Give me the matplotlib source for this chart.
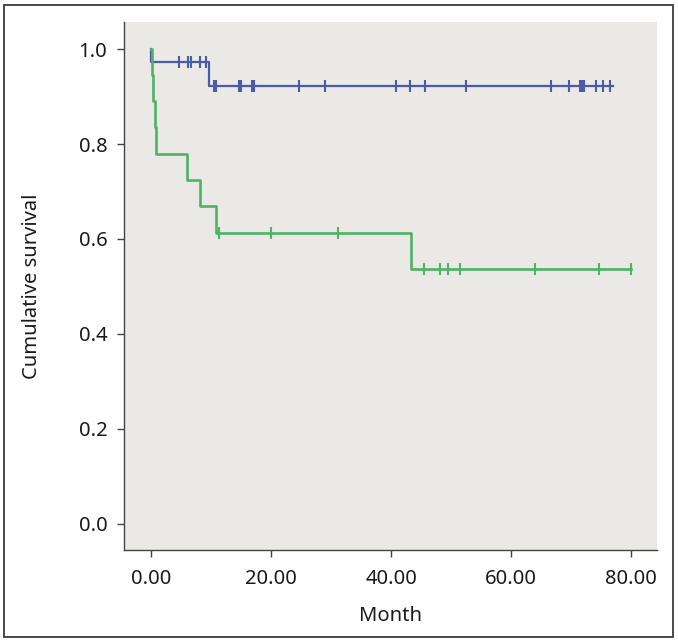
import numpy as np
import matplotlib
matplotlib.use("Agg")
import matplotlib.pyplot as plt
from matplotlib.patches import Rectangle

plt.rcParams['font.family'] = ['Noto Sans', 'DejaVu Sans']

# Kaplan-Meier step data (time, survival after step)
blue_t = [0.0, 0.0, 9.7, 77.0]
blue_s = [1.0, 0.972, 0.923, 0.923]
blue_cens = [4.6, 6.2, 6.6, 8.2, 9.2, 10.5, 10.9, 14.7, 15.0, 16.8, 17.2, 24.7,
             29.0, 40.8, 43.1, 45.6, 52.4, 66.6, 69.6, 71.4, 71.8, 72.2, 74.2,
             75.3, 76.5]

green_t = [0.0, 0.0, 0.15, 0.4, 0.7, 0.8, 6.0, 8.2, 10.9, 43.3, 80.0]
green_s = [1.0, 1.0, 0.946, 0.891, 0.836, 0.780, 0.725, 0.670, 0.613, 0.537, 0.537]
green_cens = [11.3, 20.0, 31.1, 45.5, 48.2, 49.4, 51.5, 64.0, 74.7, 80.0]

xticks = [0, 20, 40, 60, 80]
xticklabels = ["0.00", "20.00", "40.00", "60.00", "80.00"]
yticks = [0.0, 0.2, 0.4, 0.6, 0.8, 1.0]
yticklabels = ["0.0", "0.2", "0.4", "0.6", "0.8", "1.0"]

BLUE = "#4a5ba8"
GREEN = "#4db365"


def surv_at(ts, ss, t):
    ts = np.asarray(ts)
    i = np.searchsorted(ts, t, side='right') - 1
    return ss[max(i, 0)]


fig = plt.figure(figsize=(6.78, 6.43), dpi=100)
fig.patch.set_facecolor("white")
fig.patches.append(Rectangle((4 / 678, 1 - 637 / 643), 669 / 678, 632 / 643,
                             transform=fig.transFigure, fill=False,
                             edgecolor="#3a3a3a", linewidth=1.3))

ax = fig.add_axes([124 / 678, 1 - 550 / 643, 533 / 678, 528 / 643])
ax.set_facecolor("#eae9e6")

ax.plot(blue_t, blue_s, drawstyle='steps-post', color=BLUE, lw=1.6,
        zorder=2)
ax.plot(green_t, green_s, drawstyle='steps-post', color=GREEN, lw=1.9,
        zorder=3)

ax.plot(blue_cens, [surv_at(blue_t, blue_s, t) for t in blue_cens], ls='none',
        marker='|', ms=8, mew=1.5, color=BLUE, zorder=4)
ax.plot(green_cens, [surv_at(green_t, green_s, t) for t in green_cens], ls='none',
        marker='|', ms=8, mew=1.5, color=GREEN, zorder=4)

ax.set_xlim(-4.5, 84.3)
ax.set_ylim(-0.055, 1.057)
ax.set_xticks(xticks)
ax.set_xticklabels(xticklabels)
ax.set_yticks(yticks)
ax.set_yticklabels(yticklabels)

for s in ['top', 'right']:
    ax.spines[s].set_visible(False)
for s in ['left', 'bottom']:
    ax.spines[s].set_color("#444444")
    ax.spines[s].set_linewidth(1.0)

ax.tick_params(axis='both', colors="#444444", labelcolor="#1a1a1a",
               labelsize=14.5, length=5, width=1.0)
ax.tick_params(axis='y', pad=7)
ax.tick_params(axis='x', pad=9)

ax.set_xlabel("Month", fontsize=14.5, color="#1a1a1a", labelpad=12)
ax.set_ylabel("Cumulative survival", fontsize=14.5, color="#1a1a1a", labelpad=26)

fig.savefig("out.png", dpi=100)
